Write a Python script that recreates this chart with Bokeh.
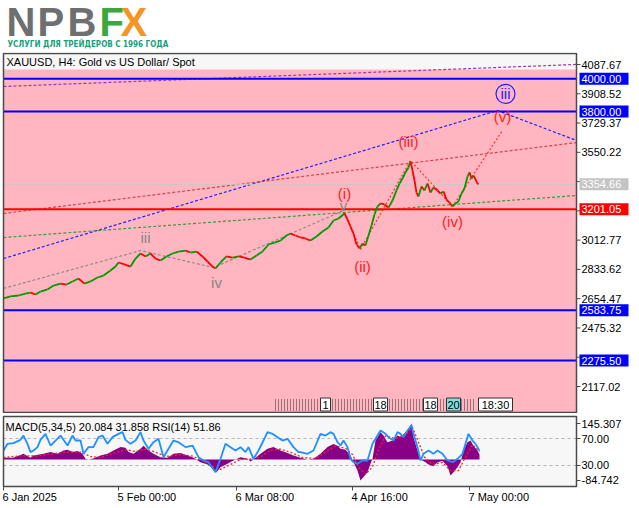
import numpy as np
from bokeh.plotting import figure
from bokeh.models import Range1d
from bokeh.layouts import column
from bokeh.embed import file_html
from bokeh.resources import INLINE
from bokeh.core.properties import value

FONT = "Liberation Sans"

# ---------------- data ----------------
date_ticks = [0, 115, 233, 349, 466]
date_labels = ["6 Jan 2025", "5 Feb 00:00", "6 Mar 08:00", "4 Apr 16:00", "7 May 00:00"]

price_ticks = [2117.02, 2296.17, 2475.32, 2654.47, 2833.62, 3012.77,
               3191.92, 3371.07, 3550.22, 3729.37, 3908.52, 4087.67]
hidden_ticks = [2296.17, 3191.92, 3371.07]

price_bar = [0, 7, 15, 22, 27, 32, 37, 44, 50, 57,
             63, 69, 75, 81, 87, 94, 100, 107, 112, 115,
             121, 127, 132, 137, 142, 147, 152, 157, 163, 169,
             175, 182, 187, 193, 199, 204, 209, 212, 217, 223,
             229, 235, 241, 247, 253, 259, 265, 271, 277, 283,
             287, 292, 297, 302, 307, 313, 319, 325, 330, 335,
             341, 344, 347, 350, 353, 356, 359, 362, 365, 368,
             371, 374, 377, 381, 385, 389, 393, 396, 399, 402,
             405, 407, 409, 411, 413, 415, 418, 421, 424, 427,
             430, 434, 437, 440, 443, 446, 449, 452, 455, 458,
             461, 464, 466, 468, 470, 472, 474, 475]
price_close = [2656, 2668, 2674, 2686, 2692, 2680, 2698, 2711, 2735, 2747,
               2741, 2760, 2778, 2747, 2760, 2784, 2796, 2827, 2851, 2876,
               2864, 2851, 2900, 2931, 2913, 2931, 2900, 2888, 2913, 2931,
               2943, 2949, 2937, 2943, 2913, 2882, 2851, 2839, 2876, 2913,
               2906, 2913, 2906, 2894, 2919, 2943, 2986, 2998, 3010, 3041,
               3053, 3041, 3029, 3023, 3010, 3035, 3066, 3090, 3133, 3145,
               3176, 3139, 3096, 3053, 2986, 2962, 2992, 2980, 3041, 3102,
               3170, 3219, 3237, 3231, 3212, 3255, 3317, 3359, 3390, 3427,
               3457, 3494, 3439, 3378, 3304, 3280, 3341, 3317, 3359, 3304,
               3335, 3317, 3298, 3310, 3261, 3243, 3219, 3237, 3249, 3298,
               3329, 3402, 3427, 3390, 3408, 3384, 3359, 3354.66]

blue_levels = [4000.00, 3800.00, 2583.75, 2275.50]
red_level = 3201.05
bid_price = 3354.66
zone_top = 4057

trend_purple_x = [0, 573]
trend_purple_y = [3953, 4088]
trend_blue_x = [0, 494, 573]
trend_blue_y = [2900, 3806, 3623]
trend_red_x = [0, 573]
trend_red_y = [3176, 3610]
trend_green_x = [0, 573]
trend_green_y = [3029, 3286]

wave_gray_x = [0, 137, 210, 340]
wave_gray_y = [2717, 2949, 2845, 3194]
wave_red_x = [341, 357, 407, 449, 499]
wave_red_y = [3182, 2956, 3500, 3219, 3684]

wave_red_labels = ["(i)", "(ii)", "(iii)", "(iv)", "(v)"]
wave_red_lx = [341, 359, 405, 449, 499]
wave_red_ly = [3296, 2851, 3618, 3127, 3769]
wave_gray_labels = ["iii", "iv", "v"]
wave_gray_lx = [142, 213, 340]
wave_gray_ly = [3031, 2755, 3225]
circled_label = "iii"
circled_x = 502
circled_y = 3908

macd_bar = [0, 10, 20, 27, 30, 40, 47, 54, 60, 64,
            69, 74, 79, 82, 85, 89, 97, 104, 110, 117,
            122, 125, 130, 137, 140, 145, 150, 157, 164, 170,
            177, 184, 190, 197, 204, 210, 213, 217, 224, 230,
            237, 244, 247, 250, 257, 264, 270, 277, 284, 290,
            297, 304, 310, 317, 324, 330, 334, 337, 342, 347,
            350, 354, 357, 360, 364, 367, 369, 372, 377, 380,
            384, 389, 394, 397, 402, 405, 408, 410, 414, 417,
            422, 425, 430, 434, 439, 444, 447, 450, 454, 457,
            460, 464, 467, 470, 474, 476]
macd_hist = [7, 7, 23, 7, 16, 23, 30, 23, 36, 39,
             30, 34, 23, 3, 0, 3, 16, 23, 36, 50,
             47, 30, 23, 43, 56, 36, 23, 9, 7, 23,
             26, 16, 7, -11, -20, -38, -51, -31, -17, -4,
             9, 3, -8, 0, 23, 43, 50, 36, 26, 16,
             7, 0, 3, 23, 50, 63, 56, 43, 39, 16,
             -11, -44, -84.742, -71, -51, -17, 3, 77, 110, 97,
             70, 77, 97, 90, 110, 124, 145.307, 90, 36, 0,
             -11, -20, -27, -11, -6, -27, -65, -51, -31, -11,
             36, 70, 77, 56, 36, 20.084]

signal_bar = [0, 17, 32, 47, 62, 77, 87, 97, 112, 122,
              132, 142, 152, 162, 177, 189, 199, 209, 217, 227,
              237, 247, 257, 267, 277, 289, 299, 312, 322, 332,
              342, 349, 355, 362, 369, 375, 382, 392, 402, 409,
              415, 421, 429, 439, 447, 455, 462, 469, 476]
signal_vals = [8, 15, 14, 22, 30, 30, 12, 8, 28, 40,
               32, 42, 30, 12, 20, 14, -4, -28, -40, -20,
               0, 2, 10, 38, 42, 26, 8, 4, 30, 55,
               45, 20, -30, -60, -30, 40, 95, 85, 100, 130,
               70, 10, -20, -12, -45, -45, 10, 60, 31.858]

rsi_bar = [0, 4, 10, 17, 20, 24, 27, 30, 34, 37,
           42, 47, 52, 57, 64, 69, 72, 77, 80, 85,
           90, 95, 99, 104, 109, 115, 119, 122, 127, 132,
           137, 140, 145, 150, 155, 160, 165, 170, 175, 182,
           189, 195, 200, 205, 212, 217, 222, 227, 232, 237,
           242, 245, 250, 255, 260, 264, 269, 274, 279, 284,
           290, 295, 297, 304, 310, 317, 322, 327, 330, 334,
           337, 340, 344, 347, 350, 354, 359, 364, 369, 372,
           377, 382, 385, 390, 394, 397, 400, 404, 408, 410,
           414, 417, 420, 425, 430, 434, 439, 444, 449, 454,
           459, 462, 465, 469, 472, 476]
rsi_vals = [52.2, 62.1, 63.1, 68, 74.4, 62.1, 49.8, 52.2, 57.2, 68,
            76.9, 59.6, 67, 74.4, 59.6, 74.4, 67, 67, 47.3, 57.2,
            57.2, 72, 74.4, 62.1, 72, 76.9, 79.4, 68, 62.1, 67,
            79.4, 67, 54.7, 64.6, 69.5, 42.3, 54.7, 67, 64.6, 57.2,
            59.6, 42.3, 37.4, 34.9, 20.1, 39.9, 62.1, 57.2, 52.2, 57.2,
            49.8, 57.2, 39.9, 52.2, 67, 79.4, 76.9, 72, 67, 69.5,
            57.2, 49.8, 49.8, 47.3, 52.2, 76.9, 74.4, 79.4, 76.9, 64.6,
            59.6, 67, 57.2, 39.9, 34.9, 32.5, 37.4, 37.4, 62.1, 69.5,
            81.8, 76.9, 72, 67, 79.4, 76.9, 72, 81.8, 89.3, 76.9,
            57.2, 37.4, 47.3, 52.2, 47.3, 52.2, 47.3, 37.4, 34.9, 39.9,
            47.3, 62.1, 76.9, 67, 62.1, 51.86]
rsi_levels = [70, 30]
macd_axis_vals = [145.307, -84.742]
macd_text = "MACD(5,34,5) 20.084 31.858 RSI(14) 51.86"
title_text = "XAUUSD, H4:  Gold vs US Dollar/ Spot"

event_labels = ["1", "18", "18", "20", "18:30"]
event_x = [322, 377, 427, 450, 492]
event_w = [10, 14, 14, 14, 34]

logo_letters = ["N", "P", "B", "F", "X"]
logo_colors = ["#6e6f71", "#6e6f71", "#6e6f71", "#3aa83c", "#f39423"]
logo_slogan = "УСЛУГИ ДЛЯ ТРЕЙДЕРОВ С 1996 ГОДА"

# ---------------- geometry (layout) ----------------
W = 639
H_LOGO, H_MAIN, H_MACD = 52, 361, 95
X0, X1 = 0, 573            # chart area in bar units
xr = Range1d(-3, 636)
AX_TICK = 577              # tick end / label start in x units
BORDER = "#4a4a4a"

PP = 6.12                  # price per pixel in main panel
y_end = price_ticks[-1] + 12 * PP
yr = Range1d(y_end - H_MAIN * PP, y_end)
chart_top = y_end - 1 * PP
chart_bot = y_end - 360 * PP

MP = 4.036                 # MACD units per pixel
m_end = macd_axis_vals[0] + 10 * MP
myr = Range1d(m_end - H_MACD * MP, m_end)
panel_top = m_end - 3 * MP
panel_bot = m_end - 73 * MP
RP = 1.4815                # RSI units per pixel
r_end = rsi_levels[0] + 25 * RP
ryr = Range1d(r_end - H_MACD * RP, r_end)


def base_fig(h, y_range):
    f = figure(width=W, height=h, x_range=xr, y_range=y_range, output_backend="svg",
               toolbar_location=None, x_axis_location=None, y_axis_location=None,
               min_border=0)
    f.grid.visible = False
    f.outline_line_color = None
    f.background_fill_color = "white"
    f.border_fill_color = "white"
    return f


def txt(f, x, y, t, color="black", size="11px", align="left", baseline="middle",
        font=FONT, style="normal", **kw):
    f.text(x=x, y=y, text=t, text_color=color, text_font=value(font), text_font_size=size,
           text_align=align, text_baseline=baseline, text_font_style=style, **kw)


# ---------------- logo ----------------
logo = base_fig(H_LOGO, Range1d(H_LOGO, 0))
for t, c, x in zip(logo_letters, logo_colors, [3, 34, 64, 96, 117]):
    txt(logo, [x], [21.5], [t], color=c, size="40px", style="bold")
txt(logo, [4], [43.5], [logo_slogan], color="#1a9f7d", size="8px", style="bold",
    font="DejaVu Sans Condensed")

# ---------------- main chart ----------------
p = base_fig(H_MAIN, yr)
p.quad(left=[X0], right=[X1], bottom=[chart_bot], top=[chart_top], fill_color="#f7f7f7",
       line_color=None)
p.quad(left=[X0], right=[X1], bottom=[chart_bot], top=[zone_top], fill_color="#ffb6c1",
       line_color=None)

p.line(trend_purple_x, trend_purple_y, line_color="#9b30c8", line_dash="3 2", line_width=1.2)
p.line(trend_blue_x, trend_blue_y, line_color="#2020ff", line_dash="3 2", line_width=1.2)
p.line(trend_red_x, trend_red_y, line_color="#d0454a", line_dash="3 2", line_width=1.2)
p.line(trend_green_x, trend_green_y, line_color="#3a9a3a", line_dash="3 2", line_width=1.2)
p.line(wave_gray_x, wave_gray_y, line_color="#8c8c8c", line_dash="3 2", line_width=1.2)
p.line(wave_red_x, wave_red_y, line_color="#ff3030", line_dash="2 2", line_width=1.2)

p.segment(x0=[X0] * len(blue_levels), y0=blue_levels, x1=[X1] * len(blue_levels),
          y1=blue_levels, line_color="#0000ff", line_width=2)
p.segment(x0=[X0], y0=[bid_price], x1=[X1], y1=[bid_price], line_color="#c8c8c8", line_width=1)
p.segment(x0=[X0], y0=[red_level], x1=[X1], y1=[red_level], line_color="#ff0000", line_width=2)

pb = np.array(price_bar, dtype=float)
pc = np.array(price_close, dtype=float)
seg_cols = ["#009a00" if b >= a else "#ff0000" for a, b in zip(pc[:-1], pc[1:])]
p.segment(x0=pb[:-1], y0=pc[:-1], x1=pb[1:], y1=pc[1:], line_color=seg_cols, line_width=1.8)

txt(p, wave_red_lx, wave_red_ly, wave_red_labels, color="#ff2020", size="15px", align="center")
txt(p, wave_gray_lx, wave_gray_ly, wave_gray_labels, color="#858585", size="15px", align="center")
txt(p, [circled_x], [circled_y], [circled_label], color="#2020ff", size="15px", align="center")
p.scatter(x=[circled_x], y=[circled_y], marker="circle", size=19, fill_color=None,
          line_color="#2020ff", line_width=1.2)

# event strip near the bottom
strip_y = chart_bot + 8 * PP
dec_x = np.arange(272, 472, 3)
p.segment(x0=dec_x, y0=chart_bot + 2 * PP, x1=dec_x, y1=chart_bot + 14 * PP,
          line_color="#303030", line_dash="1 1", line_width=1)
for t, x, w in zip(event_labels, event_x, event_w):
    bg = "#7fe0e0" if t == "20" else "white"
    p.rect(x=[x], y=[strip_y], width=w, height=13, height_units="screen",
           fill_color=bg, line_color="#303030")
    txt(p, [x], [strip_y], [t], align="center")

txt(p, [3], [price_ticks[-1] + 3 * PP], [title_text])

# chart border and price axis
p.quad(left=[X0], right=[X1], bottom=[chart_bot], top=[chart_top], fill_color=None,
       line_color=BORDER, line_width=1.5)
shown = [t for t in price_ticks if t not in hidden_ticks]
p.segment(x0=[X1] * len(price_ticks), y0=price_ticks, x1=[AX_TICK] * len(price_ticks),
          y1=price_ticks, line_color=BORDER, line_width=1)
txt(p, [AX_TICK + 1] * len(shown), shown, [f"{t:.2f}" for t in shown])

box_vals = blue_levels + [red_level, bid_price]
box_cols = ["#0000ff"] * len(blue_levels) + ["#ff0000", "#c4c4c4"]
p.rect(x=[(X1 + 3 + X1 + 52) / 2] * len(box_vals), y=box_vals, width=49, height=12,
       height_units="screen", fill_color=box_cols, line_color=None)
txt(p, [AX_TICK + 1] * len(box_vals), box_vals, [f"{v:.2f}" for v in box_vals], color="white")

# ---------------- MACD / RSI panel ----------------
m = base_fig(H_MACD, myr)
m.extra_y_ranges = {"rsi": ryr}
m.quad(left=[X0], right=[X1], bottom=[panel_bot], top=[panel_top], fill_color="#f7f7f7",
       line_color=None)
m.segment(x0=[X0] * 2, y0=rsi_levels, x1=[X1] * 2, y1=rsi_levels, y_range_name="rsi",
          line_color="#b4b4b4", line_dash="3 3", line_width=1)
m.varea(x=macd_bar, y1=[0] * len(macd_bar), y2=macd_hist, fill_color="#880088")
m.line(signal_bar, signal_vals, line_color="#ff2020", line_dash="2 2", line_width=1.3)
m.line(rsi_bar, rsi_vals, y_range_name="rsi", line_color="#1e90ff", line_width=1.8)
txt(m, [2], [macd_axis_vals[0] - 3.7 * MP], [macd_text])

m.quad(left=[X0], right=[X1], bottom=[panel_bot], top=[panel_top], fill_color=None,
       line_color=BORDER, line_width=1.5)
# right axis: MACD scale ticks and RSI level ticks
m.segment(x0=[X1] * 2, y0=macd_axis_vals, x1=[AX_TICK] * 2, y1=macd_axis_vals,
          line_color=BORDER)
txt(m, [AX_TICK + 1] * 2, macd_axis_vals, [f"{v:.3f}" for v in macd_axis_vals])
m.segment(x0=[X1] * 2, y0=rsi_levels, x1=[AX_TICK] * 2, y1=rsi_levels, y_range_name="rsi",
          line_color=BORDER)
txt(m, [AX_TICK + 1] * 2, rsi_levels, [f"{v:.2f}" for v in rsi_levels], y_range_name="rsi")
# time axis
m.segment(x0=date_ticks, y0=[panel_bot] * len(date_ticks), x1=date_ticks,
          y1=[panel_bot - 4 * MP] * len(date_ticks), line_color=BORDER)
txt(m, [t - 1 for t in date_ticks], [panel_bot - 10 * MP] * len(date_ticks), date_labels)

layout = column(logo, p, m, spacing=0)
open("out.html", "w").write(file_html(layout, INLINE))
